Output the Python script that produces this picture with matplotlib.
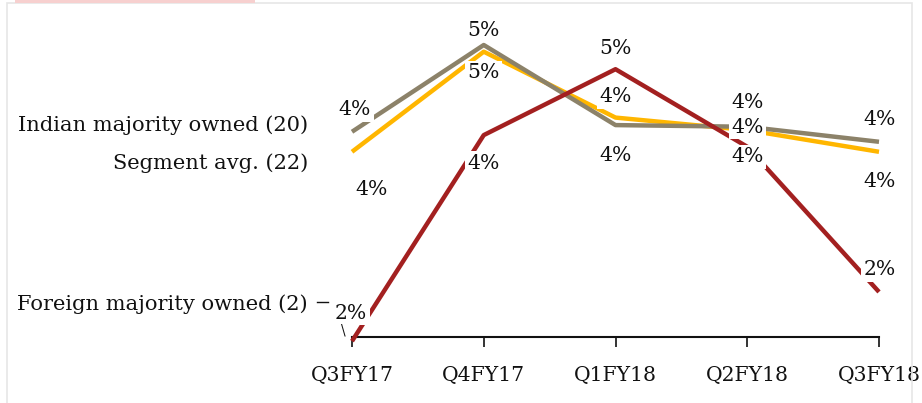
import matplotlib.pyplot as plt
from matplotlib.patches import Rectangle

quarters = ['Q3FY17', 'Q4FY17', 'Q1FY18', 'Q2FY18', 'Q3FY18']
indian = [4.06, 5.10, 4.14, 4.12, 3.94]
segment = [3.82, 5.02, 4.23, 4.08, 3.82]
foreign = [1.55, 4.02, 4.81, 3.88, 2.14]

# label offsets in pixels (dx, dy up)
indian_off = [(3, 22), (0, 15), (0, -30), (0, 24), (1, 22)]
segment_off = [(20, -38), (0, -21), (0, 21), (0, 3), (1, -30)]
foreign_off = [(-1, 28), (0, -28), (0, 21), (0, -10), (1, 22)]

gray = '#8c8269'
yellow = '#ffb600'
red = '#a32020'

plt.rcParams['font.family'] = ['DejaVu Serif']
W, H = 922, 403
fig = plt.figure(figsize=(W / 100, H / 100), dpi=100)
ax = fig.add_axes([352 / W, (H - 337) / H, (879 - 352) / W, (337 - 45) / H])

# frame and pink strip at top
fig.patches.append(Rectangle((7 / W, -0.05), (912 - 7) / W, 1.05 - 3 / H,
                             transform=fig.transFigure, fill=False,
                             edgecolor='#e6e6e6', linewidth=1.2))
fig.patches.append(Rectangle((15 / W, 1 - 3 / H), (255 - 15) / W, 3 / H,
                             transform=fig.transFigure, facecolor='#f7d0cf',
                             edgecolor='none'))

x = range(len(quarters))
ax.plot(x, segment, color=yellow, lw=3.2, zorder=2, clip_on=False, solid_capstyle='butt')
ax.plot(x, indian, color=gray, lw=3.2, zorder=3, clip_on=False, solid_capstyle='butt')
ax.plot(x, foreign, color=red, lw=3.2, zorder=4, clip_on=False, solid_capstyle='butt')

ax.set_xlim(0, 4)
ax.set_ylim(1.6, 5.1)
ax.set_xticks(list(x))
ax.set_xticklabels(quarters, fontsize=14.7)
ax.tick_params(axis='x', direction='out', length=7, width=1.2, pad=14, colors='#111111')
ax.set_yticks([])
for s in ['left', 'right', 'top']:
    ax.spines[s].set_visible(False)
ax.spines['bottom'].set_linewidth(1.5)
ax.spines['bottom'].set_color('#111111')
ax.spines['bottom'].set_zorder(1)

for vals, offs in [(indian, indian_off), (segment, segment_off), (foreign, foreign_off)]:
    for i, (v, (dx, dy)) in enumerate(zip(vals, offs)):
        ax.annotate(f'{v:.0f}%', xy=(i, v), xytext=(dx * 0.72, dy * 0.72),
                    textcoords='offset points', ha='center', va='center',
                    fontsize=14.7, color='#111111', zorder=6, annotation_clip=False,
                    bbox=dict(boxstyle='square,pad=0.12', fc='white', ec='none'))

fig.text(308 / W, 1 - 125 / H, 'Indian majority owned (20)', ha='right', va='center',
         fontsize=15.1, color='#111111')
fig.text(308 / W, 1 - 163 / H, 'Segment avg. (22)', ha='right', va='center',
         fontsize=15.1, color='#111111')
fig.text(308 / W, 1 - 304 / H, 'Foreign majority owned (2)', ha='right', va='center',
         fontsize=15.1, color='#111111')
# leader line bits next to the foreign label
fig.add_artist(plt.Line2D([317 / W, 328 / W], [1 - 302 / H, 1 - 302 / H],
                          color='#111111', lw=1.0))
fig.text(343 / W, 1 - 330 / H, '\\', ha='center', va='center', fontsize=10, color='#111111')

fig.savefig('out.png', dpi=100)
